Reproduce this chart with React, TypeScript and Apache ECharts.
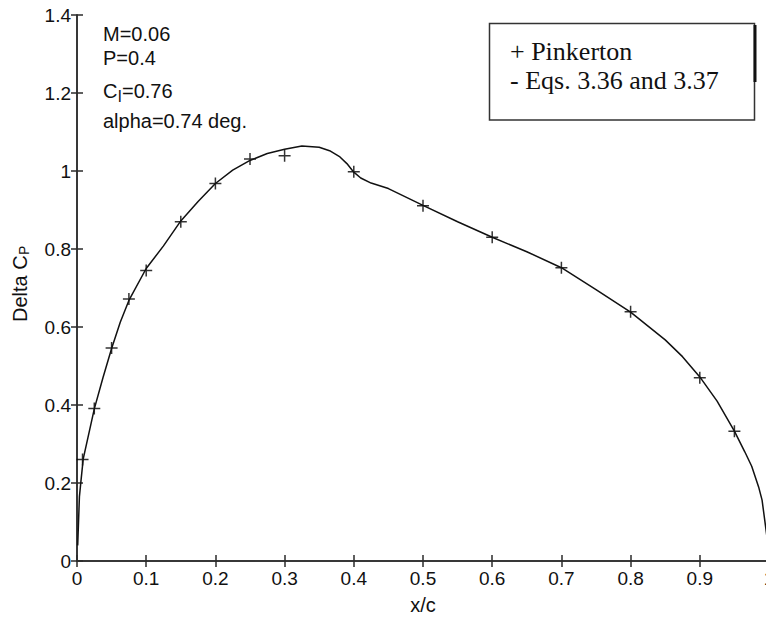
import React, { useEffect, useRef } from "react";
import * as echarts from "echarts";

// Eqs. 3.36 and 3.37 (solid curve)
const curveX = [0.001, 0.0035, 0.006, 0.009, 0.015, 0.025, 0.0375, 0.05, 0.0625, 0.075, 0.1, 0.125, 0.15, 0.175, 0.2, 0.225, 0.25, 0.275, 0.3, 0.325, 0.35, 0.365, 0.38, 0.39, 0.4, 0.41, 0.425, 0.45, 0.5, 0.55, 0.6, 0.65, 0.7, 0.75, 0.8, 0.85, 0.875, 0.9, 0.925, 0.95, 0.965, 0.975, 0.985, 0.99, 0.997, 1.0];
const curveY = [0.04, 0.165, 0.21, 0.262, 0.31, 0.39, 0.47, 0.545, 0.612, 0.668, 0.75, 0.808, 0.872, 0.922, 0.968, 1.002, 1.027, 1.045, 1.056, 1.064, 1.061, 1.052, 1.036, 1.019, 0.997, 0.982, 0.969, 0.955, 0.912, 0.87, 0.83, 0.793, 0.752, 0.696, 0.638, 0.567, 0.524, 0.472, 0.41, 0.333, 0.28, 0.243, 0.19, 0.156, 0.062, 0.0];

// Pinkerton (+ markers)
const pinkX = [0.008, 0.025, 0.05, 0.075, 0.1, 0.15, 0.2, 0.25, 0.3, 0.4, 0.5, 0.6, 0.7, 0.8, 0.9, 0.95];
const pinkY = [0.26, 0.391, 0.546, 0.672, 0.745, 0.87, 0.968, 1.031, 1.039, 0.998, 0.911, 0.83, 0.752, 0.639, 0.47, 0.333];

const xTickLabels = ["0", "0.1", "0.2", "0.3", "0.4", "0.5", "0.6", "0.7", "0.8", "0.9", "1"];
const yTickLabels = ["0", "0.2", "0.4", "0.6", "0.8", "1", "1.2", "1.4"];

const legendLabels = ["+ Pinkerton", "- Eqs. 3.36 and 3.37"];

const SANS = "'Liberation Sans', Arial, Helvetica, sans-serif";
const SERIF = "'Liberation Serif', 'Times New Roman', serif";
const AX = "#2b2b2b";
const TXT = "#111";

export default function App() {
  const ref = useRef<HTMLDivElement>(null);

  useEffect(() => {
    if (!ref.current) return;
    const chart = echarts.init(ref.current, undefined, { renderer: "svg" });

    const axisCommon = {
      type: "value" as const,
      axisLine: { show: true, lineStyle: { color: AX, width: 1.5 } },
      axisTick: { show: true, inside: true, length: 6, lineStyle: { color: AX, width: 1.5 } },
      splitLine: { show: false },
    };

    const txt = (text: string, x: number, y: number, size: number, extra: any = {}) => ({
      type: "text",
      x,
      y,
      z: 100,
      ...extra,
      style: { text, fill: TXT, font: `${size}px ${SANS}`, verticalAlign: "middle", ...(extra.style || {}) },
    });

    chart.setOption({
      animation: false,
      backgroundColor: "#fff",
      grid: { left: 77, top: 15, width: 692, height: 546, containLabel: false, outerBoundsMode: "none" },
      xAxis: [
        {
          ...axisCommon,
          position: "bottom",
          min: 0,
          max: 1,
          interval: 0.1,
          axisLabel: {
            color: TXT,
            fontFamily: SANS,
            fontSize: 19,
            margin: 8,
            formatter: (v: number) => xTickLabels[Math.round(v * 10)] ?? "",
          },
          name: "x/c",
          nameLocation: "middle",
          nameGap: 34,
          nameTextStyle: { color: TXT, fontFamily: SANS, fontSize: 20 },
        },
        {
          ...axisCommon,
          position: "top",
          min: 0,
          max: 1,
          interval: 0.1,
          axisLabel: { show: false },
        },
      ],
      yAxis: [
        {
          ...axisCommon,
          position: "left",
          min: 0,
          max: 1.4,
          interval: 0.2,
          axisLabel: {
            color: TXT,
            fontFamily: SANS,
            fontSize: 19,
            margin: 6,
            formatter: (v: number) => yTickLabels[Math.round(v * 5)] ?? "",
          },
        },
        {
          ...axisCommon,
          position: "right",
          min: 0,
          max: 1.4,
          interval: 0.2,
          axisLabel: { show: false },
        },
      ],
      series: [
        {
          type: "line",
          xAxisIndex: 0,
          yAxisIndex: 0,
          data: curveX.map((x, i) => [x, curveY[i]]),
          showSymbol: false,
          lineStyle: { color: TXT, width: 1.5 },
          silent: true,
        },
        {
          type: "scatter",
          xAxisIndex: 0,
          yAxisIndex: 0,
          data: pinkX.map((x, i) => [x, pinkY[i]]),
          symbol: "path://M0,6L12,6M6,0L6,12",
          symbolSize: 12,
          itemStyle: { color: "none", borderColor: "#000", borderWidth: 1.5 },
          silent: true,
        },
      ],
      graphic: [
        // annotations
        txt("M=0.06", 103, 34, 20),
        txt("P=0.4", 103, 58, 20),
        txt("C", 103, 91, 20),
        txt("l", 118, 96, 16),
        txt("=0.76", 122, 91, 20),
        txt("alpha=0.74 deg.", 103, 121, 20),
        // y-axis title (rotated)
        txt("Delta C", 20, 322, 20, { rotation: Math.PI / 2, style: { textAlign: "left" } }),
        txt("P", 24, 255, 14, { rotation: Math.PI / 2, style: { textAlign: "left" } }),
        // legend box
        {
          type: "rect",
          z: 100,
          shape: { x: 489.5, y: 23.5, width: 265, height: 96.5 },
          style: { fill: "#fff", stroke: "#333", lineWidth: 1.5 },
        },
        {
          type: "line",
          z: 101,
          shape: { x1: 755, y1: 25, x2: 755, y2: 82 },
          style: { stroke: "#111", lineWidth: 3 },
        },
        ...legendLabels.map((t, i) => ({
          type: "text",
          z: 102,
          x: 510,
          y: [51, 80][i],
          style: {
            text: t,
            fill: TXT,
            font: `26px ${SERIF}`,
            verticalAlign: "middle",
          },
        })),
      ],
    });

    return () => chart.dispose();
  }, []);

  return (
    <div
      ref={ref}
      style={{ position: "fixed", left: 0, top: 0, width: 766, height: 621, background: "#fff" }}
    />
  );
}
